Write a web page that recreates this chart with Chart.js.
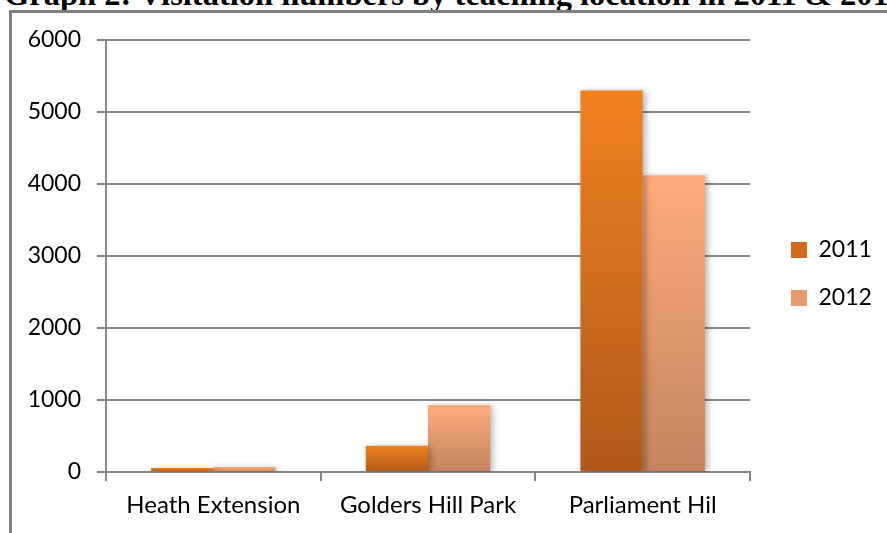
<!DOCTYPE html>
<html>
<head>
<meta charset="utf-8">
<script src="https://cdn.jsdelivr.net/npm/chart.js@4.4.1/dist/chart.umd.min.js"></script>
<style>
  html, body { margin: 0; padding: 0; background: #fff; overflow: hidden; }
  #wrap { position: relative; width: 887px; height: 533px; overflow: hidden; }
  #title { position: absolute; left: 4px; top: -22px; white-space: nowrap;
           font: bold 32.5px/32px "Liberation Serif", serif; color: #000; }
  #frame { position: absolute; left: 9px; top: 10px; width: 1000px; height: 1000px;
           border-left: 3px solid #808080; border-top: 3px solid #808080; }
  #box { position: absolute; left: 0; top: 0; width: 887px; height: 533px; }
</style>
</head>
<body>
<div id="wrap">
  <div id="title">Graph 2: Visitation numbers by teaching location in 2011 &amp; 2012</div>
  <div id="frame"></div>
  <div id="box"><canvas id="myChart" width="887" height="533"></canvas></div>
</div>
<script>
// 차트 데이터
var categories = ["Heath Extension", "Golders Hill Park", "Parliament Hil"];
var seriesNames = ["2011", "2012"];
var values2011 = [55, 365, 5300];
var values2012 = [70, 930, 4120];
var yTicks = [0, 1000, 2000, 3000, 4000, 5000, 6000];

// 막대 색 (위, 아래)
var colors2011 = ["#F0821F", "#B2591B"];
var colors2012 = ["#FDAC7C", "#C5835E"];

// 막대마다 세로 그라데이션
var barGradient = function(cols){
  return function(context){
    var chart = context.chart;
    if (!chart.chartArea || context.type !== 'data') return cols[0];
    var y = chart.scales.y;
    var top = y.getPixelForValue(context.raw);
    var base = y.getPixelForValue(0);
    if (!isFinite(top) || !isFinite(base) || Math.abs(base - top) < 1) return cols[0];
    var g = chart.ctx.createLinearGradient(0, top, 0, base);
    g.addColorStop(0, cols[0]);
    g.addColorStop(1, cols[1]);
    return g;
  };
};

// 막대 그림자
var shadowPlugin = {
  id: 'barShadow',
  beforeDatasetsDraw: function(chart){
    var c = chart.ctx;
    c.save();
    c.shadowColor = 'rgba(0,0,0,0.28)';
    c.shadowBlur = 6;
    c.shadowOffsetX = 3;
    c.shadowOffsetY = 1;
  },
  afterDatasetsDraw: function(chart){
    chart.ctx.restore();
  }
};

// 범례 폭 고정 + 위치 조정
var legendPlacePlugin = {
  id: 'legendPlace',
  afterInit: function(chart){
    var lg = chart.legend;
    if (!lg) return;
    var orig = lg.fit.bind(lg);
    lg.fit = function(){
      orig();
      this.width = 137;
    };
  },
  afterLayout: function(chart){
    var lg = chart.legend;
    if (!lg) return;
    lg.left += 16;
    lg.right += 16;
    lg.bottom = chart.height - 25;
    lg.height = lg.bottom - lg.top;
  }
};

var ctx = document.getElementById("myChart");
new Chart(ctx, {
  type: 'bar',
  data: {
    labels: categories,
    datasets: [
      { label: seriesNames[0], data: values2011, backgroundColor: barGradient(colors2011),
        categoryPercentage: 0.58, barPercentage: 1.0 },
      { label: seriesNames[1], data: values2012, backgroundColor: barGradient(colors2012),
        categoryPercentage: 0.58, barPercentage: 1.0 }
    ]
  },
  options: {
    responsive: false,
    animation: false,
    devicePixelRatio: 1,
    layout: { padding: { top: 40, right: 0, left: 0, bottom: 0 } },
    plugins: {
      tooltip: { enabled: false },
      legend: {
        position: 'right',
        align: 'center',
        labels: {
          boxWidth: 16, boxHeight: 16, padding: 25,
          color: '#000',
          font: { family: 'Lato', size: 23 },
          generateLabels: function(chart){
            return [
              { text: seriesNames[0], fillStyle: '#D06A1E', strokeStyle: 'rgba(0,0,0,0)', lineWidth: 0, datasetIndex: 0 },
              { text: seriesNames[1], fillStyle: '#E89A6E', strokeStyle: 'rgba(0,0,0,0)', lineWidth: 0, datasetIndex: 1 }
            ];
          }
        }
      }
    },
    scales: {
      x: {
        grid: { drawOnChartArea: false, drawTicks: true, tickLength: 9, offset: true, color: '#868686', lineWidth: 2 },
        border: { color: '#868686', width: 2 },
        ticks: { color: '#000', font: { family: 'Lato', size: 24 }, padding: 10 },
        afterFit: function(scale){ scale.height = 61; }
      },
      y: {
        min: 0, max: 6000,
        afterBuildTicks: function(scale){ scale.ticks = yTicks.map(function(v){ return { value: v }; }); },
        grid: { color: '#868686', lineWidth: 2, tickLength: 9 },
        border: { color: '#868686', width: 2 },
        ticks: { color: '#000', font: { family: 'Lato', size: 23 }, padding: 16,
                 callback: function(v){ return String(v); } },
        afterFit: function(scale){ scale.width = 106; }
      }
    }
  },
  plugins: [shadowPlugin, legendPlacePlugin]
});
</script>
</body>
</html>
